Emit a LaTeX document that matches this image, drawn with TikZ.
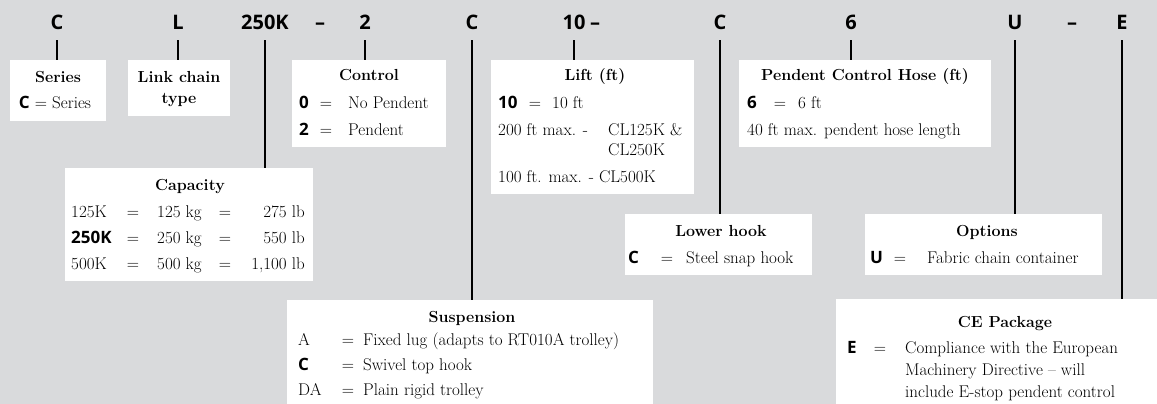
\documentclass[tikz,border=0pt]{standalone}
\usepackage{fontspec}
\usepackage{tikz}
\newfontfamily\keyfont{Open Sans}
\definecolor{sheet}{RGB}{217,218,220}
\newcommand\codefnt{\keyfont\bfseries\fontsize{20}{24}\selectfont}
\newcommand\keyfnt{\keyfont\bfseries\fontsize{17}{20}\selectfont}
\newcommand\bodyfnt{\fontsize{17}{22}\selectfont}
\newcommand\headfnt{\bfseries\fontsize{16}{20}\selectfont}

\begin{document}
\begin{tikzpicture}[x=1pt, y=-1pt,
  code/.style={font=\codefnt, inner xsep=0pt, inner ysep=10pt, text depth=0pt, anchor=base},
  box/.style={fill=white, inner sep=0pt, anchor=north west},
  head/.style={font=\headfnt, inner sep=0pt, anchor=base},
  txt/.style={font=\bodyfnt, inner sep=0pt, anchor=base west},
  key/.style={font=\keyfnt, inner sep=0pt, anchor=base west},
  eq/.style={font=\bodyfnt, inner sep=0pt, anchor=base},
  lead/.style={line width=1.6pt}]
  % Sheet
  \fill[sheet] (0,0) rectangle (1157,404);
  \useasboundingbox (0,0) rectangle (1157,404);
  % Code letters
  \node[code] (cSer)  at (57,30)   {C};
  \node[code] (cLink) at (178,30)  {L};
  \node[code] (cCap)  at (265,30)  {250K};
  \node[code] (dashA) at (320,30)  {–};
  \node[code] (cCtrl) at (365,30)  {2};
  \node[code] (cSusp) at (472,30)  {C};
  \node[code] (cLift) at (574,30)  {10};
  \node[code] (dashB) at (595,30)  {–};
  \node[code] (cHook) at (720,30)  {C};
  \node[code] (cHose) at (851,30)  {6};
  \node[code] (cOpt)  at (1015,30) {U};
  \node[code] (dashC) at (1072,30) {–};
  \node[code] (cCE)   at (1122,30) {E};
  % Boxes
  \node[box, minimum width=96pt,  minimum height=61pt]  (series) at (10,60)   {};
  \node[box, minimum width=102pt, minimum height=56pt]  (link)   at (128,60)  {};
  \node[box, minimum width=154pt, minimum height=87pt]  (ctrl)   at (292,60)  {};
  \node[box, minimum width=203pt, minimum height=134pt] (lift)   at (491,60)  {};
  \node[box, minimum width=252pt, minimum height=87pt]  (hose)   at (739,60)  {};
  \node[box, minimum width=248pt, minimum height=113pt] (cap)    at (65,168)  {};
  \node[box, minimum width=366pt, minimum height=104pt] (susp)   at (287,300) {};
  \node[box, minimum width=187pt, minimum height=61pt]  (hook)   at (625,214) {};
  \node[box, minimum width=237pt, minimum height=61pt]  (opt)    at (865,214) {};
  \node[box, minimum width=321pt, minimum height=105pt] (ce)     at (836,299) {};
  % Leaders
  \draw[lead] (cSer.south)  -- (cSer.south |- series.north);
  \draw[lead] (cLink.south) -- (cLink.south |- link.north);
  \draw[lead] (cCap.south)  -- (cCap.south |- cap.north);
  \draw[lead] (cCtrl.south) -- (cCtrl.south |- ctrl.north);
  \draw[lead] (cSusp.south) -- (cSusp.south |- susp.north);
  \draw[lead] (cLift.south) -- (cLift.south |- lift.north);
  \draw[lead] (cHook.south) -- (cHook.south |- hook.north);
  \draw[lead] (cHose.south) -- (cHose.south |- hose.north);
  \draw[lead] (cOpt.south)  -- (cOpt.south |- opt.north);
  \draw[lead] (cCE.south)   -- (cCE.south |- ce.north);
  % Series and chain
  \node[head] (seriesT) at (58,82) {Series};
  \node[txt, anchor=base] (seriesA) at (55,109) {{\keyfnt C} = Series};
  \node[head] (linkT) at (179,83)  {Link chain};
  \node[head] (linkU) at (179,103) {type};
  % Control
  \node[head] (ctrlT) at (369,81) {Control};
  \node[key] (ctrlK0) at (299,108) {0};
  \node[eq]  (ctrlE0) at (326,108) {=};
  \node[txt] (ctrlV0) at (348,108) {No Pendent};
  \node[key] (ctrlK2) at (299,135) {2};
  \node[eq]  (ctrlE2) at (326,135) {=};
  \node[txt] (ctrlV2) at (348,135) {Pendent};
  % Lift
  \node[head] (liftT) at (595,81) {Lift (ft)};
  \node[key] (liftK) at (498,108) {10};
  \node[eq]  (liftE) at (535,108) {=};
  \node[txt] (liftV) at (552,108) {10 ft};
  \node[txt] (liftA) at (498,135) {200 ft max. -};
  \node[txt] (liftB) at (608,135) {CL125K \&};
  \node[txt] (liftC) at (608,155) {CL250K};
  \node[txt] (liftD) at (498,182) {100 ft. max. - CL500K};
  % Pendent hose
  \node[head] (hoseT) at (865,81) {Pendent Control Hose (ft)};
  \node[key] (hoseK) at (747,108) {6};
  \node[eq]  (hoseE) at (780,108) {=};
  \node[txt] (hoseV) at (798,108) {6 ft};
  \node[txt] (hoseA) at (747,135) {40 ft max. pendent hose length};
  % Capacity
  \node[head] (capT) at (190,190) {Capacity};
  \node[txt] (capK1) at (71,217) {125K};
  \node[key] (capK2) at (71,243) {250K};
  \node[txt] (capK3) at (71,269) {500K};
  \node[eq] (capE1) at (133,217) {=};
  \node[eq] (capE2) at (133,243) {=};
  \node[eq] (capE3) at (133,269) {=};
  \node[txt] (capG1) at (157,217) {125 kg};
  \node[txt] (capG2) at (157,243) {250 kg};
  \node[txt] (capG3) at (157,269) {500 kg};
  \node[eq] (capF1) at (225,217) {=};
  \node[eq] (capF2) at (225,243) {=};
  \node[eq] (capF3) at (225,269) {=};
  \node[txt, anchor=base east] (capL1) at (305,217) {275 lb};
  \node[txt, anchor=base east] (capL2) at (305,243) {550 lb};
  \node[txt, anchor=base east] (capL3) at (305,269) {1,100 lb};
  % Suspension
  \node[head] (suspT) at (472,322) {Suspension};
  \node[txt] (suspKA) at (298,345) {A};
  \node[key] (suspKC) at (298,370) {C};
  \node[txt] (suspKD) at (298,395) {DA};
  \node[eq] (suspEA) at (348,345) {=};
  \node[eq] (suspEC) at (348,370) {=};
  \node[eq] (suspED) at (348,395) {=};
  \node[txt] (suspVA) at (363,345) {Fixed lug (adapts to RT010A trolley)};
  \node[txt] (suspVC) at (363,370) {Swivel top hook};
  \node[txt] (suspVD) at (363,395) {Plain rigid trolley};
  % Lower hook
  \node[head] (hookT) at (721,236) {Lower hook};
  \node[key] (hookK) at (628,263) {C};
  \node[eq]  (hookE) at (667,263) {=};
  \node[txt] (hookV) at (686,263) {Steel snap hook};
  % Options
  \node[head] (optT) at (987,236) {Options};
  \node[key] (optK) at (870,263) {U};
  \node[eq]  (optE) at (900,263) {=};
  \node[txt] (optV) at (927,263) {Fabric chain container};
  % CE package
  \node[head] (ceT) at (1005,327) {CE Package};
  \node[key] (ceK) at (847,353) {E};
  \node[eq]  (ceE) at (880,353) {=};
  \node[txt] (ceA) at (905,353) {Compliance with the European};
  \node[txt] (ceB) at (905,375) {Machinery Directive – will};
  \node[txt] (ceC) at (905,397) {include E-stop pendent control};
\end{tikzpicture}
\end{document}
